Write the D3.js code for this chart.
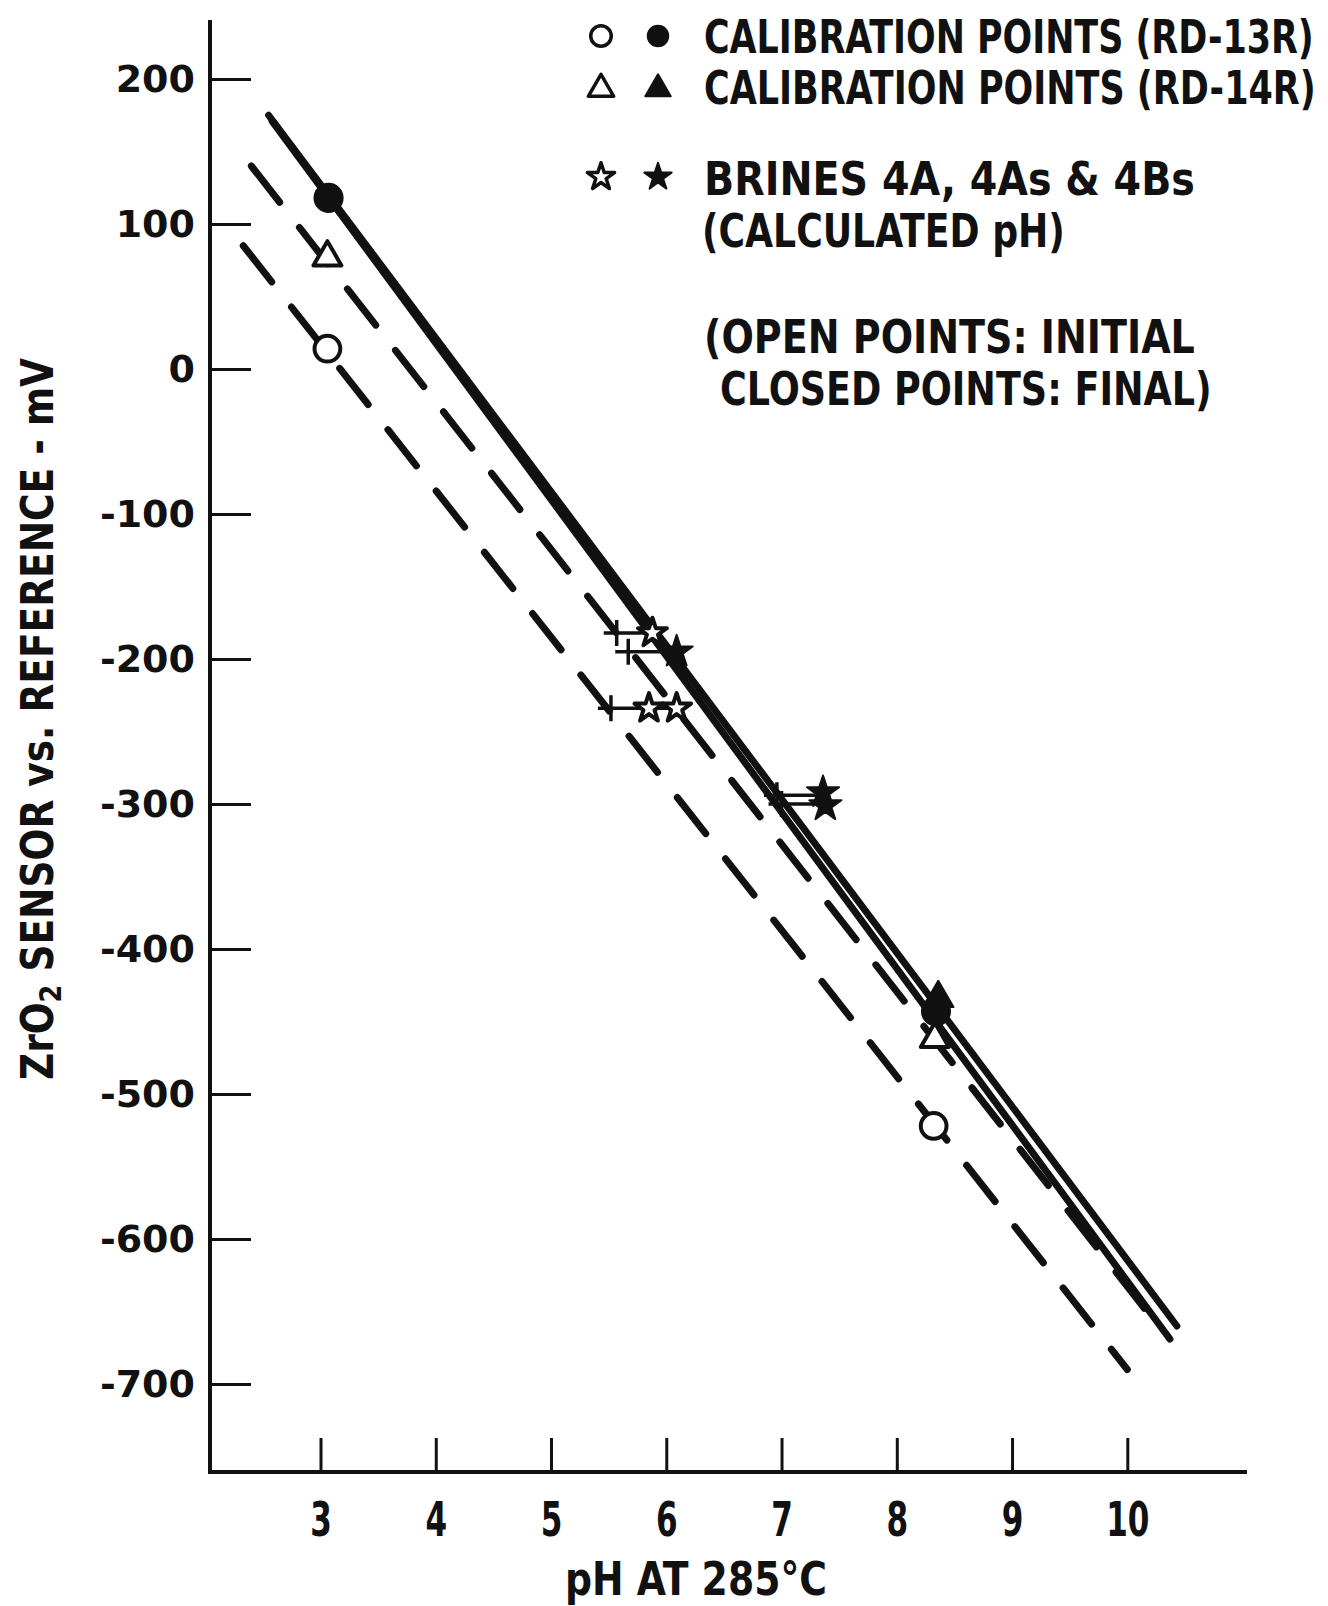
<!DOCTYPE html>
<html>
<head>
<meta charset="utf-8">
<script src="https://cdn.jsdelivr.net/npm/d3@7"></script>
<style>
  html, body { margin: 0; padding: 0; background: #fff; }
  svg { display: block; }
  .lettering { font-family: "DejaVu Sans Condensed", "Liberation Sans Narrow", sans-serif; font-weight: bold; fill: #111; }
</style>
</head>
<body>
<svg id="chart"></svg>
<script>
const width = 1328, height = 1606;

const phTicks = [3, 4, 5, 6, 7, 8, 9, 10];
const mvTicks = [200, 100, 0, -100, -200, -300, -400, -500, -600, -700];

// calibration points [pH, mV]
const rd13Initial = [[3.06, 14], [8.32, -522]];
const rd13Final = [[3.07, 118], [8.34, -443]];
const rd14Initial = [[3.06, 77], [8.33, -462]];
const rd14Final = [[8.36, -434]];

// brines (calculated pH), open = initial, closed = final
const brineInitial = [[5.88, -182], [5.85, -234], [6.09, -234]];
const brineFinal = [[6.09, -195], [7.36, -292], [7.38, -301]];
// horizontal bars [pH at "+", pH at star, mV]
const brineRanges = [[5.57, 5.88, -182], [5.67, 6.09, -195], [5.52, 6.09, -234], [6.96, 7.36, -294], [7.0, 7.38, -300]];

// fitted lines, end points [pH, mV]
const fit13Final = [[2.55, 175], [10.43, -660]];
const fit14Final = [[2.58, 171], [10.37, -669]];
const fit14Initial = [[2.40, 140], [10.15, -648]];
const fit13Initial = [[2.33, 85], [10.0, -690]];

const legendRows = [
  "CALIBRATION POINTS (RD-13R)",
  "CALIBRATION POINTS (RD-14R)",
  "BRINES 4A, 4As & 4Bs",
  "(CALCULATED pH)",
  "(OPEN POINTS: INITIAL",
  "CLOSED POINTS: FINAL)"
];

const frame = { left: 210, top: 20, right: 1247, bottom: 1472 };
const ink = "#111";

const svg = d3.select("#chart").attr("width", width).attr("height", height);
svg.append("rect").attr("width", width).attr("height", height).attr("fill", "#fff");

const x = d3.scaleLinear().domain([3, 10]).range([320.5, 1127.3]);
const y = d3.scaleLinear().domain([-700, 200]).range([1384, 79]);

// squeeze a text horizontally to a given width (the lettering is condensed)
function fitWidth(sel, tx, ty, len, rotate) {
  const natural = sel.node().getComputedTextLength();
  const sx = len / natural;
  sel.attr("transform", `translate(${tx},${ty})${rotate ? " rotate(-90)" : ""} scale(${sx},1)`);
}

// axes
const yAxis = svg.append("g")
  .attr("transform", `translate(${frame.left},0)`)
  .call(d3.axisLeft(y).tickValues(mvTicks).tickSize(-41).tickPadding(15).tickFormat(d => String(d)));
yAxis.select(".domain").remove();
yAxis.selectAll(".tick line").attr("stroke", ink).attr("stroke-width", 3);
yAxis.selectAll(".tick text")
  .attr("fill", ink)
  .style("font-family", "'DejaVu Sans', sans-serif")
  .style("font-weight", "bold")
  .style("font-size", "38px");

const xAxis = svg.append("g")
  .attr("transform", `translate(0,${frame.bottom})`)
  .call(d3.axisBottom(x).tickValues(phTicks).tickSize(-34).tickPadding(30).tickFormat(d3.format("d")));
xAxis.select(".domain").remove();
xAxis.selectAll(".tick line").attr("stroke", ink).attr("stroke-width", 3);
xAxis.selectAll(".tick text")
  .attr("class", "lettering")
  .attr("transform", "scale(0.72,1)")
  .style("font-size", "48px");

svg.append("path")
  .attr("d", `M${frame.left},${frame.top}V${frame.bottom}H${frame.right}`)
  .attr("fill", "none").attr("stroke", ink).attr("stroke-width", 4);

// fitted lines
const line = d3.line().x(d => x(d[0])).y(d => y(d[1]));
const fits = [
  { pts: fit13Initial, dash: "46 32" },
  { pts: fit14Initial, dash: "46 32" },
  { pts: fit14Final, dash: null },
  { pts: fit13Final, dash: null }
];
svg.append("g").selectAll("path").data(fits).join("path")
  .attr("d", d => line(d.pts))
  .attr("fill", "none")
  .attr("stroke", ink)
  .attr("stroke-width", 7)
  .attr("stroke-linecap", "round")
  .attr("stroke-dasharray", d => d.dash);

// brine pH bars with "+" at the low end
const bars = svg.append("g").attr("stroke", ink).attr("stroke-width", 3.5).attr("fill", "none");
bars.selectAll("path").data(brineRanges).join("path")
  .attr("d", d => {
    const x0 = x(d[0]), x1 = x(d[1]), yy = y(d[2]);
    return `M${x0 - 13},${yy}H${x1}M${x0},${yy - 13}V${yy + 13}`;
  });

// markers
const sym = (type, size) => d3.symbol().type(type).size(size)();
function markers(data, type, size, filled) {
  svg.append("g").selectAll("path").data(data).join("path")
    .attr("transform", d => `translate(${x(d[0])},${y(d[1])})`)
    .attr("d", sym(type, size))
    .attr("fill", filled ? ink : "#fff")
    .attr("stroke", ink)
    .attr("stroke-width", filled ? 2 : 4)
    .attr("stroke-linejoin", "round");
}
markers(rd13Initial, d3.symbolCircle, 520, false);
markers(rd14Initial, d3.symbolTriangle, 340, false);
markers(brineInitial, d3.symbolStar, 260, false);
markers(rd13Final, d3.symbolCircle, 620, true);
markers(rd14Final, d3.symbolTriangle, 400, true);
markers(brineFinal, d3.symbolStar, 320, true);

// legend
const legend = svg.append("g");
const symX = [601, 658];
const legendSymbols = [
  { type: d3.symbolCircle, size: 330, cy: 36 },
  { type: d3.symbolTriangle, size: 280, cy: 89 },
  { type: d3.symbolStar, size: 230, cy: 177 }
];
legendSymbols.forEach(s => {
  [false, true].forEach((filled, i) => {
    legend.append("path")
      .attr("transform", `translate(${symX[i]},${s.cy})`)
      .attr("d", sym(s.type, s.size))
      .attr("fill", filled ? ink : "#fff")
      .attr("stroke", ink)
      .attr("stroke-width", filled ? 2 : 3.5)
      .attr("stroke-linejoin", "round");
  });
});
const rowLayout = [
  { x: 704, y: 53, len: 610 },
  { x: 704, y: 104, len: 612 },
  { x: 704, y: 195, len: 491 },
  { x: 702, y: 247, len: 363 },
  { x: 704, y: 353, len: 491 },
  { x: 720, y: 405, len: 492 }
];
legend.selectAll("text").data(legendRows).join("text")
  .attr("class", "lettering")
  .style("font-size", "46px")
  .text(d => d)
  .each(function (d, i) {
    const r = rowLayout[i];
    fitWidth(d3.select(this), r.x, r.y, r.len, false);
  });

// axis titles
const xTitle = svg.append("text")
  .attr("class", "lettering")
  .attr("text-anchor", "middle")
  .style("font-size", "46px")
  .text("pH AT 285°C");
fitWidth(xTitle, 696, 1595, 262, false);

const yTitle = svg.append("text")
  .attr("class", "lettering")
  .attr("text-anchor", "middle")
  .style("font-size", "44px");
yTitle.append("tspan").text("ZrO");
yTitle.append("tspan").attr("dy", 8).style("font-size", "30px").text("2");
yTitle.append("tspan").attr("dy", -8).text(" SENSOR vs. REFERENCE - mV");
fitWidth(yTitle, 53, 719, 722, true);
</script>
</body>
</html>
